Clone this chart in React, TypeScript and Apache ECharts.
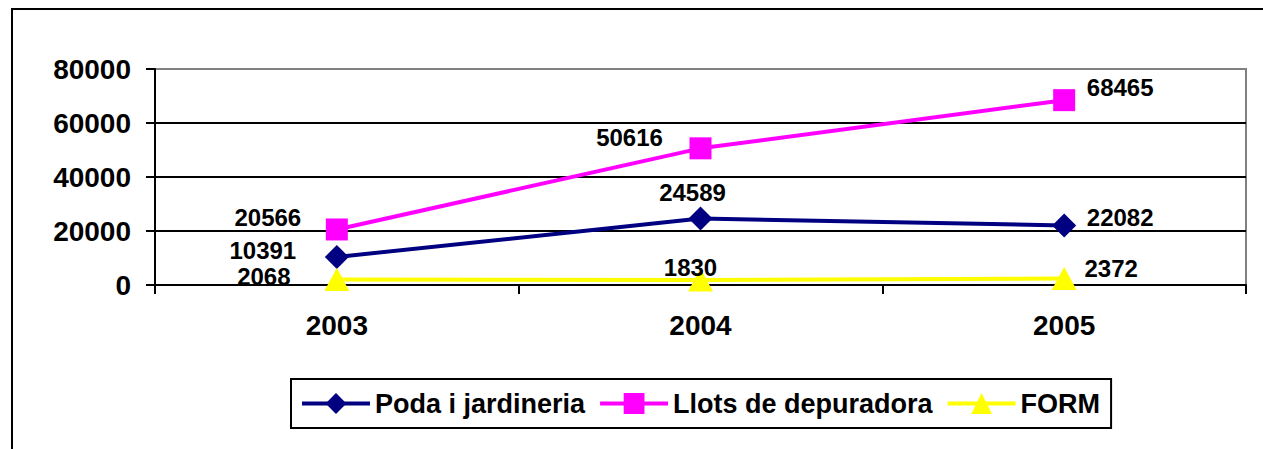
import React, { useEffect, useRef } from "react";
import * as echarts from "echarts";

const years = ["2003", "2004", "2005"];
const podaValues = [10391, 24589, 22082];
const llotsValues = [20566, 50616, 68465];
const formValues = [2068, 1830, 2372];
const seriesNames = ["Poda i jardineria", "Llots de depuradora", "FORM"];
const yTicks = { min: 0, max: 80000, interval: 20000 };

// label offsets (styling, in px) for each point's value label
const podaLabelOffsets = [[-74, -6], [-8, -26], [56, -8]];
const llotsLabelOffsets = [[-69, -12], [-71, -11], [56, -13]];
const formLabelOffsets = [[-73, -3], [-10, -13], [47, -10]];

const FONT = "'Liberation Sans', Arial, sans-serif";

function buildData(values: number[], offsets: number[][]) {
  return values.map((v, i) => ({
    value: v,
    label: { offset: offsets[i] },
  }));
}

export default function App() {
  const ref = useRef<HTMLDivElement>(null);
  useEffect(() => {
    if (!ref.current) return;
    const chart = echarts.init(ref.current, null, { renderer: "svg" });
    const labelBase = {
      show: true,
      position: "inside" as const,
      color: "#000",
      fontFamily: FONT,
      fontWeight: "bold" as const,
      fontSize: 24,
      align: "center" as const,
      verticalAlign: "middle" as const,
    };
    chart.setOption({
      animation: false,
      backgroundColor: "#fff",
      graphic: [
        {
          type: "rect",
          shape: { x: 12, y: 9, width: 1300, height: 500 },
          style: { fill: "none", stroke: "#000", lineWidth: 2 },
          silent: true,
          z: -1,
        },
      ],
      grid: {
        left: 155,
        right: 17,
        top: 69,
        bottom: 164,
        show: true,
        borderColor: "#808080",
        borderWidth: 2,
        backgroundColor: "transparent",
        outerBoundsMode: "none",
      },
      legend: {
        left: 291,
        top: 379,
        orient: "horizontal",
        padding: [11, 11, 11, 9],
        borderColor: "#000",
        borderWidth: 2,
        itemWidth: 68,
        itemHeight: 26,
        itemGap: 13,
        lineStyle: { width: 4 },
        textStyle: {
          color: "#000",
          fontFamily: FONT,
          fontWeight: "bold",
          fontSize: 27,
        },
        data: seriesNames,
      },
      xAxis: {
        type: "category",
        data: years,
        boundaryGap: true,
        axisLine: { show: true, lineStyle: { color: "#000", width: 2 } },
        axisTick: {
          show: true,
          alignWithLabel: false,
          length: 9,
          lineStyle: { color: "#000", width: 2 },
        },
        axisLabel: {
          color: "#000",
          fontFamily: FONT,
          fontWeight: "bold",
          fontSize: 28,
          margin: 26,
        },
        splitLine: { show: false },
      },
      yAxis: {
        type: "value",
        min: yTicks.min,
        max: yTicks.max,
        interval: yTicks.interval,
        axisLine: { show: true, lineStyle: { color: "#000", width: 2 } },
        axisTick: { show: true, length: 9, lineStyle: { color: "#000", width: 2 } },
        axisLabel: {
          color: "#000",
          fontFamily: FONT,
          fontWeight: "bold",
          fontSize: 28,
          margin: 24,
          formatter: (v: number) => String(v),
        },
        splitLine: {
          show: true,
          lineStyle: {
            color: ["#000", "#000", "#000", "#000", "#808080"],
            width: 2,
          },
        },
      },
      series: [
        {
          name: seriesNames[0],
          type: "line",
          data: buildData(podaValues, podaLabelOffsets),
          symbol: "diamond",
          symbolSize: 24,
          lineStyle: { color: "#000080", width: 4 },
          itemStyle: { color: "#000080" },
          label: labelBase,
        },
        {
          name: seriesNames[1],
          type: "line",
          data: buildData(llotsValues, llotsLabelOffsets),
          symbol: "rect",
          symbolSize: 22,
          lineStyle: { color: "#FF00FF", width: 4 },
          itemStyle: { color: "#FF00FF" },
          label: labelBase,
        },
        {
          name: seriesNames[2],
          type: "line",
          data: buildData(formValues, formLabelOffsets),
          symbol: "triangle",
          symbolSize: [25, 23],
          lineStyle: { color: "#FFFF00", width: 4 },
          itemStyle: { color: "#FFFF00" },
          label: labelBase,
        },
      ],
    });
    return () => chart.dispose();
  }, []);
  return (
    <div
      ref={ref}
      style={{ position: "fixed", left: 0, top: 0, width: 1263, height: 449 }}
    />
  );
}
